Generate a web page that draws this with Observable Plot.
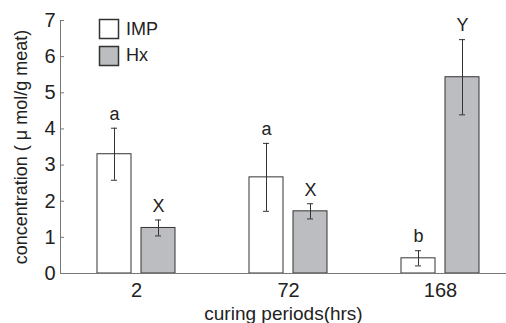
<!DOCTYPE html>
<html><head><meta charset="utf-8">
<script src="https://cdn.jsdelivr.net/npm/d3@7"></script>
<script src="https://cdn.jsdelivr.net/npm/@observablehq/plot@0.6"></script>
<style>body{margin:0;background:#fff} #chart svg{font-family:"Liberation Sans",Arial,sans-serif}</style>
</head><body><div id="chart"></div>
<script>
const periods = ["2", "72", "168"];
const seriesNames = ["IMP", "Hx"];
const impMean = [3.30, 2.66, 0.42];
const impSD = [0.72, 0.94, 0.21];
const hxMean = [1.26, 1.72, 5.43];
const hxSD = [0.22, 0.21, 1.04];
const impLetters = ["a", "a", "b"];
const hxLetters = ["X", "X", "Y"];
const yTicks = [0, 1, 2, 3, 4, 5, 6, 7];
const yLabel = "concentration ( μ mol/g meat)";
const xLabel = "curing periods(hrs)";

const imp = periods.map((p, i) => ({period: p, mean: impMean[i], sd: impSD[i], letter: impLetters[i]}));
const hx = periods.map((p, i) => ({period: p, mean: hxMean[i], sd: hxSD[i], letter: hxLetters[i]}));

const ink = "#333";
const hxFill = "#bcbdc0";
const lo = d => d.mean - d.sd, hi = d => d.mean + d.sd;

function group(data, side, fill) {
  // side -1 = left bar of pair, +1 = right bar of pair (within a 152px band)
  const near = 81, far = 37, off = 22 * side;
  const capIn = {insetLeft: 76 + off - 3, insetRight: 76 - off - 3};
  return [
    Plot.barY(data, {x: "period", y: "mean", fill, stroke: ink, strokeWidth: 1,
      insetLeft: side < 0 ? far : near, insetRight: side < 0 ? near : far}),
    Plot.ruleX(data, {x: "period", y1: lo, y2: hi, dx: off, stroke: ink, strokeWidth: 1}),
    Plot.tickY(data, {x: "period", y: lo, stroke: ink, strokeWidth: 1, ...capIn}),
    Plot.tickY(data, {x: "period", y: hi, stroke: ink, strokeWidth: 1, ...capIn}),
    Plot.text(data, {x: "period", y: hi, text: "letter", dx: off, dy: -14, fontSize: 18, fill: "#222"})
  ];
}

const chart = Plot.plot({
  width: 506,
  height: 323,
  marginLeft: 60,
  marginRight: 0,
  marginTop: 20,
  marginBottom: 50,
  style: {background: "#fff", color: "#222"},
  x: {domain: periods, range: [60, 516], padding: 0},
  y: {domain: [0, 7]},
  marks: [
    Plot.axisY(yTicks, {tickSize: -4, tickPadding: 9, fontSize: 20, stroke: "#777", fill: "#222", label: null}),
    Plot.axisX({tickSize: 0, tickPadding: 9, fontSize: 20, fill: "#222", label: null}),
    Plot.text([yLabel], {frameAnchor: "left", textAnchor: "middle", lineAnchor: "middle", rotate: -90, dx: -39, fontSize: 18, fill: "#222"}),
    Plot.text([xLabel], {frameAnchor: "bottom", textAnchor: "middle", lineAnchor: "middle", dy: 40, fontSize: 19, fill: "#222"}),
    Plot.frame({anchor: "left", stroke: "#777"}),
    ...group(imp, -1, "#fff"),
    ...group(hx, 1, hxFill),
    Plot.ruleY([0], {stroke: "#777"})
  ]
});

const svg = d3.select(chart);
seriesNames.forEach((name, i) => {
  const g = svg.append("g").attr("text-anchor", "start");
  g.append("rect").attr("x", 99.5).attr("y", 19.5 + i * 27).attr("width", 19).attr("height", 19)
    .attr("fill", i === 0 ? "#fff" : hxFill).attr("stroke", ink).attr("stroke-width", 1.5);
  g.append("text").attr("x", 126).attr("y", 29 + i * 26).attr("dy", "0.35em")
    .attr("font-size", 18).attr("fill", "#222").text(name);
});

document.getElementById("chart").append(chart);
</script>
</body></html>
